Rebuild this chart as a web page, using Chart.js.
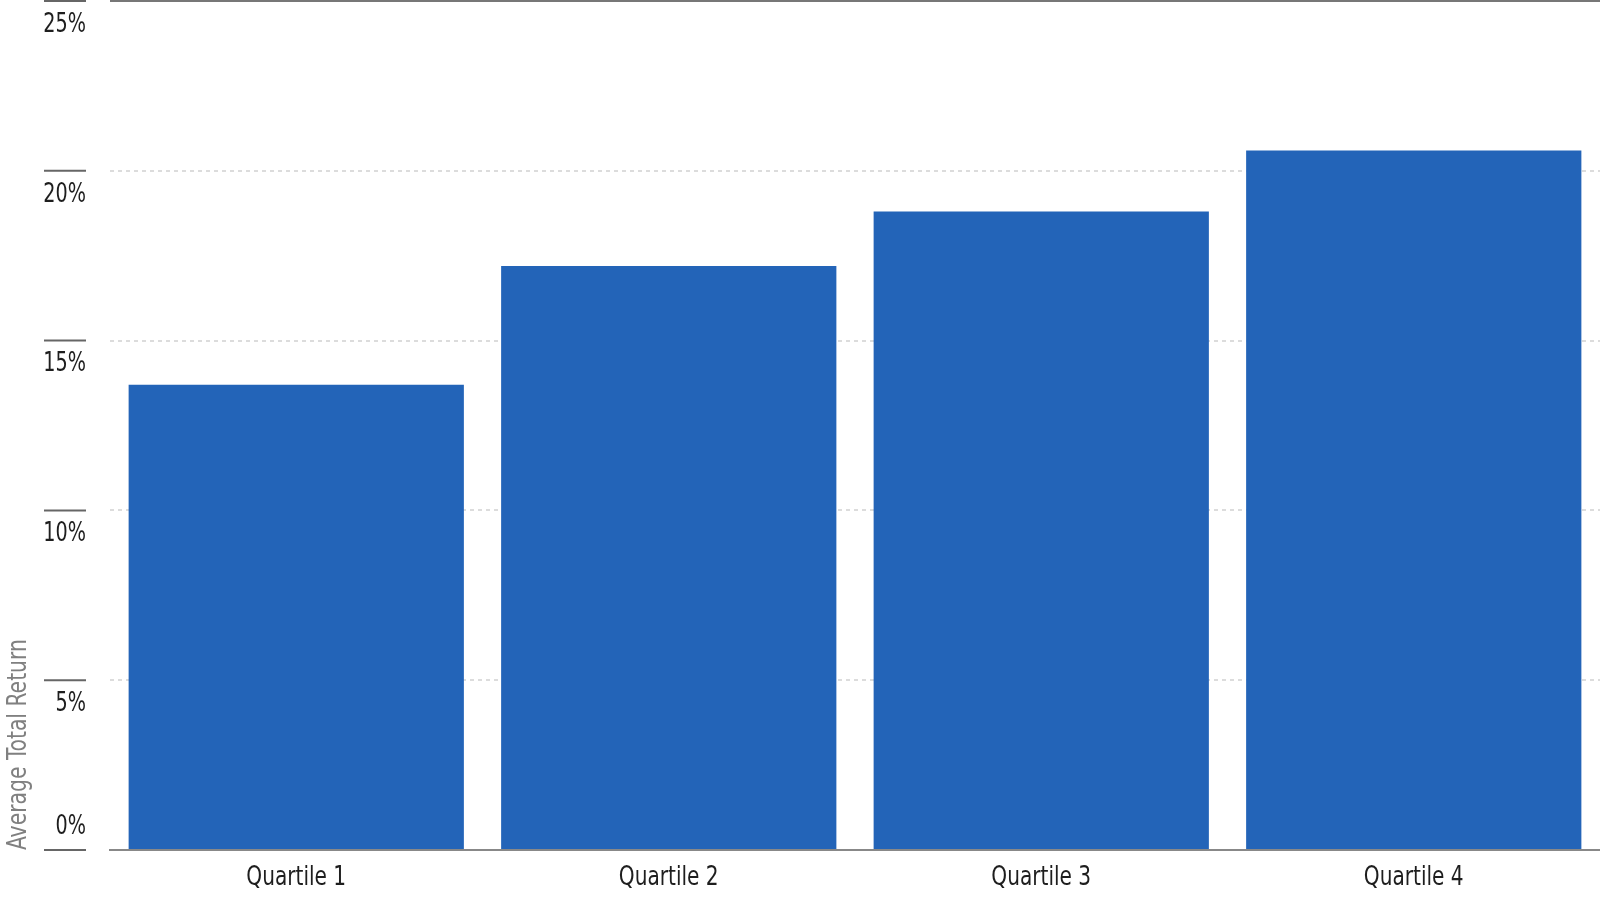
<!DOCTYPE html>
<html>
<head>
<meta charset="utf-8">
<script src="https://cdn.jsdelivr.net/npm/chart.js@4/dist/chart.umd.min.js"></script>
<style>
  html, body { margin: 0; padding: 0; background: #fff; }
  canvas { display: block; }
</style>
</head>
<body>
<canvas id="chart" width="1600" height="900"></canvas>
<script>
// Werte
const quartiles = ["Quartile 1", "Quartile 2", "Quartile 3", "Quartile 4"];
const avgReturn = [13.7, 17.2, 18.8, 20.6];
const yTicks = [0, 5, 10, 15, 20, 25];
const yTitle = "Average Total Return";

const FONT = "'Liberation Sans Narrow', 'DejaVu Sans Condensed', sans-serif";

// Text horizontal gestaucht zeichnen (schmale Schrift nachbilden)
function narrowText(ctx, text, x, y, align, k) {
  ctx.save();
  ctx.translate(x, y);
  ctx.scale(k, 1);
  ctx.textAlign = align;
  ctx.fillText(text, 0, 0);
  ctx.restore();
}

// eigene Achsen-Deko: kurze Striche links, Labels darunter (0% darüber)
const axisPlugin = {
  id: "axisDeco",
  afterDraw(chart) {
    const ctx = chart.ctx;
    const y = chart.scales.y;
    const x = chart.scales.x;
    const area = chart.chartArea;
    ctx.save();

    // obere Linie
    ctx.strokeStyle = "#777";
    ctx.lineWidth = 2;
    ctx.beginPath();
    ctx.moveTo(area.left, y.getPixelForValue(25));
    ctx.lineTo(area.right, y.getPixelForValue(25));
    ctx.stroke();

    ctx.font = "26px " + FONT;
    ctx.fillStyle = "#1e1e1e";
    ctx.textBaseline = "middle";
    yTicks.forEach(v => {
      const py = y.getPixelForValue(v);
      ctx.strokeStyle = "#666";
      ctx.lineWidth = 2;
      ctx.beginPath();
      ctx.moveTo(44, py);
      ctx.lineTo(86, py);
      ctx.stroke();
      const off = v === 0 ? -23 : 24;
      narrowText(ctx, v + "%", 86, py + off, "right", 0.82);
    });

    // Kategorien
    quartiles.forEach((q, i) => {
      narrowText(ctx, q, x.getPixelForValue(i), area.bottom + 28, "center", 0.86);
    });

    // Achsentitel
    ctx.translate(19, area.bottom);
    ctx.rotate(-Math.PI / 2);
    ctx.fillStyle = "#808080";
    narrowText(ctx, yTitle, 0, 0, "left", 0.87);
    ctx.restore();
  }
};

new Chart(document.getElementById("chart").getContext("2d"), {
  type: "bar",
  data: {
    labels: quartiles,
    datasets: [{
      label: yTitle,
      data: avgReturn,
      backgroundColor: "#2364b8",
      borderWidth: 0,
      categoryPercentage: 1.0,
      barPercentage: 0.9
    }]
  },
  options: {
    responsive: false,
    devicePixelRatio: 1,
    animation: false,
    layout: { padding: { top: 1, right: 0, left: 0, bottom: 0 } },
    plugins: {
      legend: { display: false },
      tooltip: { enabled: false },
      title: { display: false }
    },
    scales: {
      x: {
        afterFit: s => { s.height = 50; },
        grid: { display: false, drawTicks: false },
        border: { display: true, color: "#888", width: 2 },
        ticks: { display: false }
      },
      y: {
        min: 0,
        max: 25,
        afterFit: s => { s.width = 110; },
        afterBuildTicks: s => { s.ticks = yTicks.map(v => ({ value: v })); },
        ticks: { display: false },
        grid: { color: "#dcdcdc", lineWidth: 2, drawTicks: false },
        border: { display: false, dash: [4, 4] }
      }
    }
  },
  plugins: [axisPlugin]
});
</script>
</body>
</html>
